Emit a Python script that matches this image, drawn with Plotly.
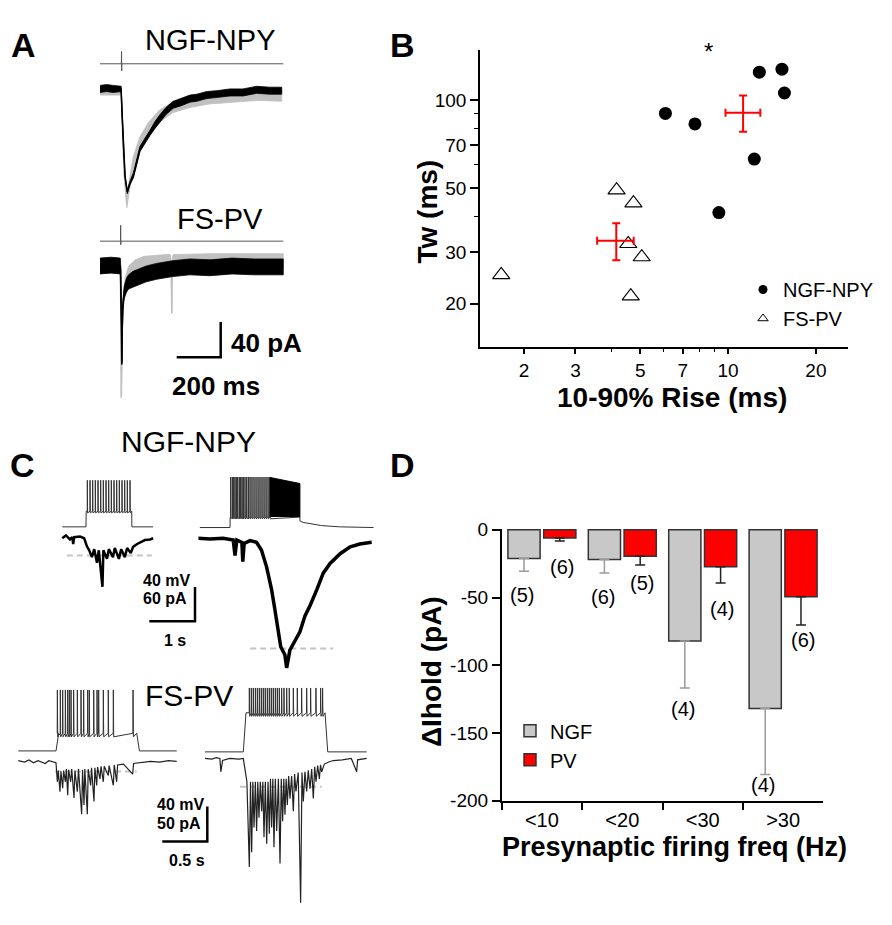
import math
import plotly.graph_objects as go

W, H = 892, 925
FONT = "Arial, Liberation Sans, sans-serif"

# ======================= DATA =======================
# ---- Panel B: 10-90% rise time vs weighted decay Tw (ms) ----
rise_ngf = [6.1, 7.7, 12.8, 15.3, 15.6, 12.3, 9.3]
tw_ngf = [90.2, 83.0, 125.0, 128.0, 106.0, 62.8, 41.1]
rise_pv = [4.15, 4.74, 4.55, 5.06, 1.67, 4.64]
tw_pv = [49.1, 44.3, 32.1, 28.9, 25.1, 21.2]
rise_mean = [11.26, 4.14]
rise_err_hi = [1.64, 0.61]
rise_err_lo = [1.46, 0.58]
tw_mean = [90.6, 32.9]
tw_err_hi = [13.4, 4.9]
tw_err_lo = [12.6, 4.7]
b_xticks = [2, 3, 5, 7, 10, 20]
b_xminor = [4, 6, 8, 9]
b_yticks = [20, 30, 50, 70, 100]
b_yminor = [40, 60, 80, 90]
sig_rise, sig_tw = 8.54, 141.8

# ---- Panel D: change in holding current ----
freq_bins = ["<10", "<20", "<30", ">30"]
ngf_dhold = [-21.2, -21.9, -82.1, -131.9]
ngf_sem = [9.4, 9.9, 34.7, 48.6]
pv_dhold = [-6.0, -19.5, -27.2, -49.4]
pv_sem = [2.2, 6.5, 12.1, 20.9]
ngf_n = [5, 6, 4, 4]
pv_n = [6, 5, 4, 6]
d_yticks = [0, -50, -100, -150, -200]
d_yticktext = ["0", "-50", "-100", "-150", "-200"]

# ---- Panel A: averaged IPSCs (time ms, current pA re baseline, noise half-width pA) ----
a_ngf_t = [0, 30, 60, 96, 100, 106, 114, 124, 136, 152, 182, 227, 250, 273, 300, 333, 370, 409, 440,
           485, 530, 591, 650, 712, 770, 826]
a_ngf_i = [0, 1, 0, 0, -25, -65, -100, -117, -107, -98, -68, -50, -41, -33, -25, -18, -15, -11, -10,
           -7, -6, -4, -4, -1, -2, -2]
a_ngf_hw = [4, 4, 4, 3, 2, 2, 2, 2, 2, 3, 3, 3, 4, 4, 4, 4, 4, 4, 4, 4, 4, 4, 4, 4, 4, 4]
a_ngf_gray_t = [0, 96, 100, 110, 122, 132, 150, 180, 220, 270, 330, 410, 500, 600, 720, 826]
a_ngf_gray_i = [-2, -2, -30, -95, -131, -112, -85, -62, -45, -31, -21, -15, -11, -9, -7, -8]
a_ngf_gray_hw = [5, 5, 4, 4, 4, 6, 7, 7, 7, 7, 6, 6, 6, 6, 6, 6]
a_fs_t = [0, 50, 92, 94, 97, 99, 101, 104, 110, 120, 130, 150, 170, 210, 258, 330, 409, 500, 600, 700, 833]
a_fs_i = [0, 1, 0, -5, -60, -111, -70, -45, -30, -22, -18, -15, -13, -9, -6, -3, -1, -2, 0, -1, -1]
a_fs_hw = [9, 9, 9, 6, 3, 1, 3, 5, 7, 8, 8, 9, 9, 9, 9, 9, 9, 9, 9, 9, 9]
a_fs_gray_t = [0, 92, 95, 97, 99, 102, 106, 115, 130, 160, 200, 300, 320, 324, 326, 328, 332, 500, 833]
a_fs_gray_i = [0, 0, -60, -149, -110, -65, -40, -20, -8, -1, 3, 5, 5, 4, -53, 4, 5, 6, 6]
a_fs_gray_hw = [8, 8, 3, 1, 2, 3, 5, 7, 8, 8, 8, 8, 8, 2, 1, 2, 8, 8, 8]
a_stim_ngf_t = [0, 97, 98, 98.6, 99.2, 833]
a_stim_ngf_i = [0, 0, 14, -8, 0, 0]
a_stim_fs_t = [0, 93, 94, 94.6, 95.2, 833]
a_stim_fs_i = [0, 0, 18, -4, 0, 0]
a_bar_ms, a_bar_pa = 200, 40

# ---- Panel C, NGF-NPY (time s from step onset; current pA; voltage mV) ----
c_ngf_l_t = [-0.52, -0.44, -0.35, -0.30, -0.28, -0.26, -0.13, -0.04, 0.02, 0.07, 0.13, 0.18, 0.24, 0.28,
             0.36, 0.38, 0.46, 0.50, 0.59, 0.63, 0.72, 0.77, 0.85, 0.90, 0.98, 1.03, 1.12, 1.20, 1.29,
             1.40, 1.47]
c_ngf_l_i = [0, 5, -2, 2, -10, 2, 3, 0, -14, -21, -33, -19, -43, -21, -85, -21, -36, -19, -33, -17, -36,
             -19, -33, -17, -26, -15, -10, -7, -3, -2, 0]
c_ngf_l_spikes = [0.029, 0.088, 0.146, 0.204, 0.263, 0.321, 0.379, 0.438, 0.496, 0.554, 0.613, 0.671,
                  0.729, 0.788, 0.846, 0.904, 0.963]
c_ngf_l_vm = dict(pre=-0.52, off=1.0, end=1.47, plateau=18.3, peak=54.4)
c_ngf_l_dash = [-0.42, 1.44, -30]

c_ngf_r_t = [-0.69, -0.44, -0.15, 0.07, 0.11, 0.15, 0.26, 0.28, 0.31, 0.44, 0.58, 0.69, 0.80, 0.91,
             0.98, 1.06, 1.11, 1.20, 1.24, 1.31, 1.42, 1.53, 1.64, 1.75, 1.90, 2.04, 2.19, 2.41, 2.63,
             2.84, 3.10]
c_ngf_r_i = [0, -1, 0, -3, -30, -3, -7, -41, -9, -4, -7, -21, -50, -90, -124, -164, -190, -204, -227,
             -196, -181, -164, -136, -118, -90, -61, -44, -27, -15, -10, -7]
c_ngf_r_spikes = [0.015, 0.051, 0.080, 0.109, 0.139, 0.168, 0.204, 0.233, 0.263, 0.292, 0.328, 0.365,
                  0.401, 0.438, 0.481, 0.525, 0.569, 0.613, 0.656, 0.700, 0.744, 0.788, 0.832, 0.875]
c_ngf_r_burst_t = [0.875, 0.875, 1.53, 1.53]
c_ngf_r_burst_v = [12.2, 58.5, 51.4, 12.2]
c_ngf_r_vm = dict(pre=-0.66, off=1.53, end=3.14, plateau=12.2, peak=59.0)
c_ngf_r_decay_t = [1.53, 1.60, 1.80, 2.00, 2.40, 3.14]
c_ngf_r_decay_v = [7.7, 6.0, 3.8, 2.3, 0.8, 0.0]
c_ngf_r_dash = [0.44, 2.26, -193]

# ---- Panel C, FS-PV ----
c_fs_l_t = [-0.419, -0.35, -0.30, -0.25, -0.20, -0.12, -0.08, -0.02, 0.0, 0.015, 0.025, 0.044, 0.055,
            0.074, 0.085, 0.104, 0.115, 0.13, 0.14, 0.163, 0.175, 0.2, 0.21, 0.237, 0.25, 0.285, 0.295,
            0.311, 0.32, 0.348, 0.358, 0.385, 0.395, 0.422, 0.432, 0.452, 0.462, 0.489, 0.5, 0.526,
            0.536, 0.581, 0.59, 0.637, 0.647, 0.674, 0.684, 0.75, 0.852, 0.862, 0.95, 1.05, 1.15, 1.25,
            1.341]
c_fs_l_i = [0, -2, 1, -3, 0, -4, 0, -2, -3, -30, -14, -44, -15, -39, -14, -30, -12, -49, -13, -30, -12,
            -53, -14, -44, -12, -76, -13, -63, -12, -76, -12, -35, -10, -58, -10, -35, -9, -26, -8, -30,
            -8, -21, -7, -35, -6, -30, -6, -5, -19, -4, -3, -1, -2, 0, -1]
c_fs_l_spikes = [0.015, 0.048, 0.074, 0.104, 0.13, 0.148, 0.167, 0.196, 0.237, 0.278, 0.307, 0.352,
                 0.37, 0.419, 0.456, 0.474, 0.526, 0.581, 0.637, 0.856]
c_fs_l_vm = dict(pre=-0.419, off=0.897, end=1.341, plateau=20.0, peak=69.2)
c_fs_l_dash = [-0.011, 0.897, -15.3]

c_fs_r_t = [-0.426, -0.35, -0.30, -0.26, -0.25, -0.23, -0.15, -0.05, 0.0, 0.04, 0.067, 0.08, 0.093,
            0.106, 0.119, 0.134, 0.148, 0.161, 0.174, 0.189, 0.204, 0.217, 0.23, 0.245, 0.26, 0.275,
            0.289, 0.302, 0.315, 0.328, 0.341, 0.356, 0.371, 0.39, 0.408, 0.422, 0.437, 0.45, 0.463,
            0.476, 0.489, 0.504, 0.519, 0.537, 0.556, 0.57, 0.585, 0.61, 0.637, 0.652, 0.667, 0.685,
            0.704, 0.722, 0.741, 0.76, 0.778, 0.793, 0.808, 0.826, 0.845, 0.858, 0.871, 0.9, 0.95,
            1.0, 1.1, 1.2, 1.26, 1.27, 1.371]
c_fs_r_i = [0, -1, 1, 0, -19, -3, 0, -1, 0, -33, -154, -33, -133, -33, -98, -33, -103, -33, -84, -33,
            -75, -33, -112, -33, -121, -33, -107, -29, -98, -29, -126, -29, -103, -29, -149, -29, -89,
            -29, -80, -29, -66, -25, -57, -25, -75, -22, -47, -20, -205, -20, -61, -19, -47, -17, -43,
            -15, -57, -12, -33, -10, -29, -9, -19, -8, -5, -3, -2, 0, -19, -2, 0]
c_fs_r_spikes = [0.067, 0.089, 0.111, 0.134, 0.156, 0.178, 0.2, 0.222, 0.244, 0.267, 0.289, 0.311,
                 0.333, 0.356, 0.378, 0.4, 0.426, 0.452, 0.482, 0.511, 0.556, 0.6, 0.648, 0.704, 0.748,
                 0.807, 0.859, 0.881]
c_fs_r_vm = dict(pre=-0.426, off=0.908, end=1.371, plateau=44.4, peak=72.6)
c_fs_r_dash = [-0.037, 0.871, -40.3]

c_ngf_bar = (1.0, 40, 60)    # 1 s, 40 mV, 60 pA
c_fs_bar = (0.5, 40, 50)     # 0.5 s, 40 mV, 50 pA

# ======================= LAYOUT HELPERS =======================
def pxx(x):
    return x / W


def pxy(y):
    return 1 - y / H


def txt(x, y, s, size, bold=False, xanchor="center", angle=0, color="black"):
    return dict(x=pxx(x), y=pxy(y), xref="paper", yref="paper",
                text=("<b>%s</b>" % s) if bold else s, showarrow=False,
                font=dict(family=FONT, size=size, color=color),
                xanchor=xanchor, yanchor="middle", textangle=angle)


def hidden_axis(domain, rng, anchor):
    return dict(domain=domain, range=rng, anchor=anchor, visible=False,
                showgrid=False, zeroline=False, fixedrange=True)


def band(t, m, hw, off=0.0):
    up = [off + a + b for a, b in zip(m, hw)]
    lo = [off + a - b for a, b in zip(m, hw)]
    return list(t) + list(t)[::-1], up + lo[::-1]


def vm_trace(p, spikes, rise, t_shift, scale, base, ahp=3.0, width=0.003):
    t = [p["pre"], 0.0, rise]
    v = [0.0, 0.0, p["plateau"]]
    for s in spikes:
        t += [s - width * 0.4, s, s + width]
        v += [p["plateau"], p["peak"], p["plateau"] - ahp]
    t += [p["off"], p["off"] + rise]
    v += [p["plateau"], 0.0]
    t.append(p["end"])
    v.append(0.0)
    return [x + t_shift for x in t], [base + scale * y for y in v]


fig = go.Figure()

# ======================= PANEL A =======================
A_BOX = (95, 290, 40, 400)
A_T0, A_BASE = 100.0, 81.7
A_SX, A_SY = 0.22, 0.9
a_fs_off = -(262.7 - A_BASE) / A_SY
a_stim_ngf_lvl = (A_BASE - 56.0) / A_SY
a_stim_fs_lvl = (A_BASE - 237.3) / A_SY
ax3 = dict(xaxis="x3", yaxis="y3", showlegend=False, hoverinfo="skip")

fig.add_trace(go.Scatter(x=a_stim_ngf_t, y=[a_stim_ngf_lvl + v for v in a_stim_ngf_i], mode="lines",
                         line=dict(color="#555", width=1), **ax3))
fig.add_trace(go.Scatter(x=a_stim_fs_t, y=[a_stim_fs_lvl + v for v in a_stim_fs_i], mode="lines",
                         line=dict(color="#555", width=1), **ax3))
for (t, m, hw, off, col) in [(a_ngf_gray_t, a_ngf_gray_i, a_ngf_gray_hw, 0.0, "#c0c0c0"),
                             (a_ngf_t, a_ngf_i, a_ngf_hw, 0.0, "black"),
                             (a_fs_gray_t, a_fs_gray_i, a_fs_gray_hw, a_fs_off, "#c0c0c0"),
                             (a_fs_t, a_fs_i, a_fs_hw, a_fs_off, "black")]:
    bx, by = band(t, m, hw, off)
    fig.add_trace(go.Scatter(x=bx, y=by, mode="lines", fill="toself", fillcolor=col,
                             line=dict(color=col, width=0.8), **ax3))
    fig.add_trace(go.Scatter(x=t, y=[off + v for v in m], mode="lines",
                             line=dict(color=col, width=1.5), **ax3))
a_bx = (176.7 - A_T0) / A_SX
a_by = (A_BASE - 356.0) / A_SY
fig.add_trace(go.Scatter(x=[a_bx, a_bx + a_bar_ms, a_bx + a_bar_ms],
                         y=[a_by, a_by, a_by + a_bar_pa], mode="lines",
                         line=dict(color="black", width=2.5), **ax3))

# ======================= PANEL C (NGF-NPY) =======================
CN_T0, CN_BASE = 86.0, 541.0
CN_SX, CN_SY = 45.7, 35.0 / 60.0
cn_dx = 144.0 / CN_SX
cn_vf = c_ngf_bar[2] / c_ngf_bar[1]
cn_vl = (CN_BASE - 529.3) / CN_SY
cn_vr = (CN_BASE - 530.0) / CN_SY
ax4 = dict(xaxis="x4", yaxis="y4", showlegend=False, hoverinfo="skip")

for dash in (c_ngf_l_dash, [c_ngf_r_dash[0] + cn_dx, c_ngf_r_dash[1] + cn_dx, c_ngf_r_dash[2]]):
    fig.add_trace(go.Scatter(x=dash[:2], y=[dash[2], dash[2]], mode="lines",
                             line=dict(color="#c4c4c4", width=2, dash="6px,4px"), **ax4))
vx, vy = vm_trace(c_ngf_l_vm, c_ngf_l_spikes, 0.004, 0.0, cn_vf, cn_vl, ahp=2.0, width=0.006)
fig.add_trace(go.Scatter(x=vx, y=vy, mode="lines", line=dict(color="#333", width=1), **ax4))
fig.add_trace(go.Scatter(x=c_ngf_l_t, y=c_ngf_l_i, mode="lines", line=dict(color="black", width=2.5), **ax4))
vx, vy = vm_trace(dict(c_ngf_r_vm, end=c_ngf_r_vm["off"] + 0.004), c_ngf_r_spikes, 0.004, cn_dx, cn_vf, cn_vr,
                  ahp=2.0, width=0.006)
vx = vx[:-2]
vy = vy[:-2]
vx += [t + cn_dx for t in c_ngf_r_decay_t]
vy += [cn_vr + cn_vf * v for v in c_ngf_r_decay_v]
fig.add_trace(go.Scatter(x=vx, y=vy, mode="lines", line=dict(color="#333", width=1), **ax4))
fig.add_trace(go.Scatter(x=[t + cn_dx for t in c_ngf_r_burst_t],
                         y=[cn_vr + cn_vf * v for v in c_ngf_r_burst_v], mode="lines", fill="toself",
                         fillcolor="black", line=dict(color="black", width=1), **ax4))
fig.add_trace(go.Scatter(x=[t + cn_dx for t in c_ngf_r_t], y=c_ngf_r_i, mode="lines",
                         line=dict(color="black", width=3.5), **ax4))
cn_bx = (195.0 - CN_T0) / CN_SX
cn_by = (CN_BASE - 625.7) / CN_SY
fig.add_trace(go.Scatter(x=[cn_bx - c_ngf_bar[0], cn_bx, cn_bx], y=[cn_by, cn_by, cn_by + c_ngf_bar[2]],
                         mode="lines", line=dict(color="black", width=2.5), **ax4))

# ======================= PANEL C (FS-PV) =======================
CF_T0, CF_BASE = 56.0, 768.3
CF_SX, CF_SY = 90.0, 36.0 / 50.0
cf_dx = 187.3 / CF_SX
cf_ir = (CF_BASE - 766.0) / CF_SY
cf_vf = c_fs_bar[2] / c_fs_bar[1]
cf_vl = (CF_BASE - 758.3) / CF_SY
cf_vr = (CF_BASE - 759.3) / CF_SY
ax5 = dict(xaxis="x5", yaxis="y5", showlegend=False, hoverinfo="skip")

for dash in (c_fs_l_dash, [c_fs_r_dash[0] + cf_dx, c_fs_r_dash[1] + cf_dx, c_fs_r_dash[2] + cf_ir]):
    fig.add_trace(go.Scatter(x=dash[:2], y=[dash[2], dash[2]], mode="lines",
                             line=dict(color="#c4c4c4", width=2, dash="6px,4px"), **ax5))
vx, vy = vm_trace(c_fs_l_vm, c_fs_l_spikes, 0.03, 0.0, cf_vf, cf_vl, ahp=4.0, width=0.004)
fig.add_trace(go.Scatter(x=vx, y=vy, mode="lines", line=dict(color="#333", width=1), **ax5))
fig.add_trace(go.Scatter(x=c_fs_l_t, y=c_fs_l_i, mode="lines", line=dict(color="#222", width=1.2), **ax5))
vx, vy = vm_trace(c_fs_r_vm, c_fs_r_spikes, 0.03, cf_dx, cf_vf, cf_vr, ahp=4.0, width=0.004)
fig.add_trace(go.Scatter(x=vx, y=vy, mode="lines", line=dict(color="#333", width=1), **ax5))
fig.add_trace(go.Scatter(x=[t + cf_dx for t in c_fs_r_t], y=[cf_ir + v for v in c_fs_r_i], mode="lines",
                         line=dict(color="#222", width=1.2), **ax5))
cf_bx = (207.3 - CF_T0) / CF_SX
cf_by = (CF_BASE - 851.0) / CF_SY
fig.add_trace(go.Scatter(x=[cf_bx - c_fs_bar[0], cf_bx, cf_bx], y=[cf_by, cf_by, cf_by + c_fs_bar[2]],
                         mode="lines", line=dict(color="black", width=2.5), **ax5))

# ======================= PANEL B =======================
fig.add_trace(go.Scatter(x=rise_ngf, y=tw_ngf, mode="markers", name="NGF-NPY", showlegend=False,
                         marker=dict(symbol="circle", size=13, color="black"), xaxis="x", yaxis="y"))
fig.add_trace(go.Scatter(x=rise_pv, y=tw_pv, mode="markers", name="FS-PV", showlegend=False,
                         marker=dict(symbol="triangle-up-open", size=15, color="black", line=dict(width=1.1)),
                         xaxis="x", yaxis="y"))
fig.add_trace(go.Scatter(x=rise_mean, y=tw_mean, mode="markers", showlegend=False,
                         marker=dict(size=2, color="red"),
                         error_x=dict(type="data", symmetric=False, array=rise_err_hi, arrayminus=rise_err_lo,
                                      color="red", thickness=2, width=4),
                         error_y=dict(type="data", symmetric=False, array=tw_err_hi, arrayminus=tw_err_lo,
                                      color="red", thickness=2, width=4),
                         xaxis="x", yaxis="y"))
fig.add_trace(go.Scatter(x=[None], y=[None], mode="markers", name="NGF-NPY", legend="legend",
                         marker=dict(symbol="circle", size=9, color="black"), xaxis="x", yaxis="y"))
fig.add_trace(go.Scatter(x=[None], y=[None], mode="markers", name="FS-PV", legend="legend",
                         marker=dict(symbol="triangle-up-open", size=9, color="black", line=dict(width=1)),
                         xaxis="x", yaxis="y"))

# ======================= PANEL D =======================
fig.add_trace(go.Bar(x=freq_bins, y=ngf_dhold, name="NGF", legend="legend2",
                     marker=dict(color="#c8c8c8", line=dict(color="#333", width=1.5)),
                     error_y=dict(type="data", symmetric=False, array=[0] * 4, arrayminus=ngf_sem,
                                  color="#9a9a9a", thickness=1.5, width=5),
                     xaxis="x2", yaxis="y2"))
fig.add_trace(go.Bar(x=freq_bins, y=pv_dhold, name="PV", legend="legend2",
                     marker=dict(color="#ff0000", line=dict(color="#333", width=1.5)),
                     error_y=dict(type="data", symmetric=False, array=[0] * 4, arrayminus=pv_sem,
                                  color="#222", thickness=1.5, width=5),
                     xaxis="x2", yaxis="y2"))

# ======================= AXES =======================
B_X0, B_X1, B_Y0, B_Y1 = 480, 848, 41.7, 345
axis_style = dict(showline=True, linecolor="black", linewidth=1.5, ticks="outside", tickcolor="black",
                  tickwidth=1.5, showgrid=False, zeroline=False, fixedrange=True,
                  tickfont=dict(family=FONT, size=19, color="black"))
D_X0, D_X1, D_Y0, D_Y1 = 501.7, 823.3, 532.3, 809.3
d_px_per_pa = (D_Y1 - D_Y0) / 200.0
d_top = 0.8

fig.update_layout(
    width=W, height=H, margin=dict(l=0, r=0, t=0, b=0),
    paper_bgcolor="white", plot_bgcolor="rgba(0,0,0,0)",
    font=dict(family=FONT, color="black"),
    barmode="group", bargap=0.11, bargroupgap=0.1,
    xaxis=dict(axis_style, type="log", domain=[pxx(B_X0), pxx(B_X1)], range=[0.150, 1.411], anchor="y",
               tickvals=b_xticks, ticktext=[str(v) for v in b_xticks], ticklen=6,
               minor=dict(tickvals=b_xminor, ticklen=4, ticks="outside", tickcolor="black", tickwidth=1.2)),
    yaxis=dict(axis_style, type="log", domain=[pxy(B_Y1), pxy(B_Y0)], range=[1.153, 2.174], anchor="x",
               tickvals=b_yticks, ticktext=[str(v) for v in b_yticks], ticklen=8,
               minor=dict(tickvals=b_yminor, ticklen=4, ticks="outside", tickcolor="black", tickwidth=1.2)),
    xaxis2=dict(axis_style, type="category", domain=[pxx(D_X0), pxx(D_X1)], anchor="y2",
                tickson="boundaries", ticklen=7, tickfont=dict(family=FONT, size=20, color="black")),
    yaxis2=dict(axis_style, domain=[pxy(D_Y1), pxy(D_Y0 - d_top * d_px_per_pa)], range=[-200, d_top],
                anchor="x2", tickvals=d_yticks, ticktext=d_yticktext, ticklen=8),
    xaxis3=hidden_axis([pxx(A_BOX[0]), pxx(A_BOX[1])],
                       [(A_BOX[0] - A_T0) / A_SX, (A_BOX[1] - A_T0) / A_SX], "y3"),
    yaxis3=hidden_axis([pxy(A_BOX[3]), pxy(A_BOX[2])],
                       [(A_BASE - A_BOX[3]) / A_SY, (A_BASE - A_BOX[2]) / A_SY], "x3"),
    xaxis4=hidden_axis([pxx(55), pxx(385)], [(55 - CN_T0) / CN_SX, (385 - CN_T0) / CN_SX], "y4"),
    yaxis4=hidden_axis([pxy(680), pxy(470)], [(CN_BASE - 680) / CN_SY, (CN_BASE - 470) / CN_SY], "x4"),
    xaxis5=hidden_axis([pxx(10), pxx(390)], [(10 - CF_T0) / CF_SX, (390 - CF_T0) / CF_SX], "y5"),
    yaxis5=hidden_axis([pxy(925), pxy(680)], [(CF_BASE - 925) / CF_SY, (CF_BASE - 680) / CF_SY], "x5"),
    legend=dict(x=pxx(743), y=pxy(301.5), xanchor="left", yanchor="middle", bgcolor="rgba(0,0,0,0)",
                font=dict(family=FONT, size=20, color="black"), itemclick=False, itemdoubleclick=False),
    legend2=dict(x=pxx(510), y=pxy(752.5), xanchor="left", yanchor="middle", bgcolor="rgba(0,0,0,0)",
                 font=dict(family=FONT, size=20, color="black"), itemclick=False, itemdoubleclick=False),
)

# ======================= TEXT =======================
ann = [
    txt(23, 37, "A", 34, bold=True), txt(402, 37, "B", 34, bold=True),
    txt(22, 466, "C", 34, bold=True), txt(402, 466, "D", 34, bold=True),
    txt(210, 32, "NGF-NPY", 29), txt(220, 215, "FS-PV", 29),
    txt(229, 341.7, "40 pA", 26, bold=True, xanchor="left"), txt(216, 385, "200 ms", 26, bold=True),
    txt(428, 207, "Tw (ms)", 28, bold=True, angle=-90), txt(672, 397, "10-90% Rise (ms)", 28, bold=True),
    txt(188, 442, "NGF-NPY", 30), txt(189, 702, "FS-PV", 30),
    txt(141, 584.3, "40 mV", 16, bold=True, xanchor="left"),
    txt(141, 602.7, "60 pA", 16, bold=True, xanchor="left"), txt(175, 645.7, "1 s", 16, bold=True),
    txt(155, 813.3, "40 mV", 16, bold=True, xanchor="left"),
    txt(155, 832.7, "50 pA", 16, bold=True, xanchor="left"), txt(187, 870.7, "0.5 s", 16, bold=True),
    txt(431.7, 677, "ΔIhold (pA)", 28, bold=True, angle=-90),
    txt(674, 857, "Presynaptic firing freq (Hz)", 27, bold=True),
]
ann.append(dict(x=math.log10(sig_rise), y=math.log10(sig_tw), xref="x", yref="y", text="*",
                showarrow=False, font=dict(family=FONT, size=24, color="black"), yshift=5))
ngf_shift = [24, 24, 21, 11]
pv_shift = [26, 18, 26, 15]
for i, cat in enumerate(freq_bins):
    ann.append(dict(x=cat, y=ngf_dhold[i] - ngf_sem[i], xref="x2", yref="y2", text="(%d)" % ngf_n[i],
                    showarrow=False, xshift=-19.6, yshift=-ngf_shift[i], yanchor="middle",
                    font=dict(family=FONT, size=20, color="black")))
    ann.append(dict(x=cat, y=pv_dhold[i] - pv_sem[i], xref="x2", yref="y2", text="(%d)" % pv_n[i],
                    showarrow=False, xshift=19.6, yshift=-pv_shift[i], yanchor="middle",
                    font=dict(family=FONT, size=20, color="black")))
fig.update_layout(annotations=ann)

fig.write_html("out.html", config={"displayModeBar": False},
               post_script="document.body.style.margin='0px';")
